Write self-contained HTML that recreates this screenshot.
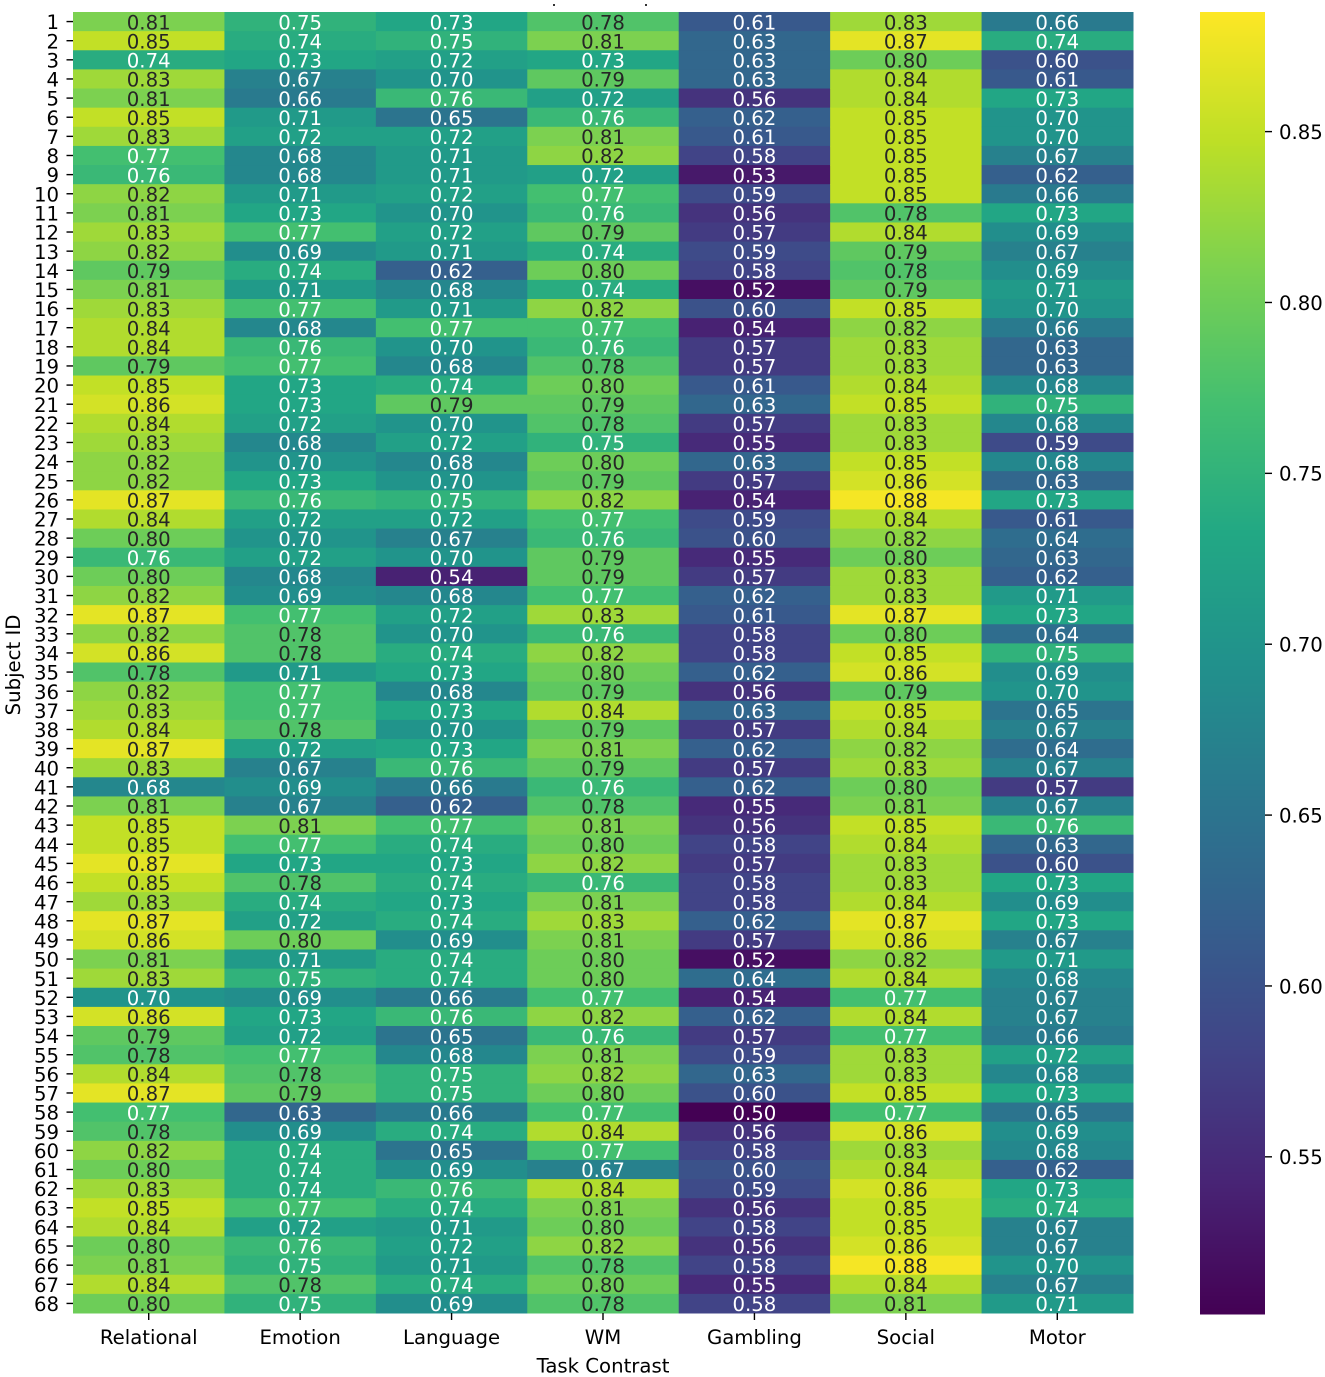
<!DOCTYPE html>
<html lang="en">
<head>
<meta charset="utf-8">
<title>Subject by Task Contrast Heatmap</title>
<style>
  html, body { margin: 0; padding: 0; background: #fff; }
  body { width: 1325px; height: 1377px; overflow: hidden; }
  svg { display: block; font-family: "DejaVu Sans", "Liberation Sans", sans-serif; filter: blur(0.35px); }
  text { font-size: 19.7px; }
</style>
</head>
<body>
<svg id="chart" xmlns="http://www.w3.org/2000/svg" width="1325" height="1377" viewBox="0 0 1325 1377">
  <rect x="0" y="0" width="1325" height="1377" fill="#ffffff"></rect>
  <rect x="553" y="4" width="2" height="2" fill="#333333"></rect>
  <rect x="645" y="4" width="2" height="2" fill="#333333"></rect>
  <g id="cells"></g>
  <g id="annotations"></g>
  <g id="y-axis"></g>
  <g id="x-axis"></g>
  <g id="colorbar"></g>
  <text x="603" y="1372.5" text-anchor="middle" fill="#000">Task Contrast</text>
  <text transform="translate(20,665) rotate(-90)" text-anchor="middle" fill="#000">Subject ID</text>
</svg>
<script>
const subjectIds = [1,2,3,4,5,6,7,8,9,10,11,12,13,14,15,16,17,18,19,20,21,22,23,24,25,26,27,28,29,30,31,32,33,34,35,36,37,38,39,40,41,42,43,44,45,46,47,48,49,50,51,52,53,54,55,56,57,58,59,60,61,62,63,64,65,66,67,68];
const taskContrasts = ["Relational","Emotion","Language","WM","Gambling","Social","Motor"];
const relational = [.81,.85,.74,.83,.81,.85,.83,.77,.76,.82,.81,.83,.82,.79,.81,.83,.84,.84,.79,.85,.86,.84,.83,.82,.82,.87,.84,.80,.76,.80,.82,.87,.82,.86,.78,.82,.83,.84,.87,.83,.68,.81,.85,.85,.87,.85,.83,.87,.86,.81,.83,.70,.86,.79,.78,.84,.87,.77,.78,.82,.80,.83,.85,.84,.80,.81,.84,.80];
const emotion = [.75,.74,.73,.67,.66,.71,.72,.68,.68,.71,.73,.77,.69,.74,.71,.77,.68,.76,.77,.73,.73,.72,.68,.70,.73,.76,.72,.70,.72,.68,.69,.77,.78,.78,.71,.77,.77,.78,.72,.67,.69,.67,.81,.77,.73,.78,.74,.72,.80,.71,.75,.69,.73,.72,.77,.78,.79,.63,.69,.74,.74,.74,.77,.72,.76,.75,.78,.75];
const language = [.73,.75,.72,.70,.76,.65,.72,.71,.71,.72,.70,.72,.71,.62,.68,.71,.77,.70,.68,.74,.79,.70,.72,.68,.70,.75,.72,.67,.70,.54,.68,.72,.70,.74,.73,.68,.73,.70,.73,.76,.66,.62,.77,.74,.73,.74,.73,.74,.69,.74,.74,.66,.76,.65,.68,.75,.75,.66,.74,.65,.69,.76,.74,.71,.72,.71,.74,.69];
const wm = [.78,.81,.73,.79,.72,.76,.81,.82,.72,.77,.76,.79,.74,.80,.74,.82,.77,.76,.78,.80,.79,.78,.75,.80,.79,.82,.77,.76,.79,.79,.77,.83,.76,.82,.80,.79,.84,.79,.81,.79,.76,.78,.81,.80,.82,.76,.81,.83,.81,.80,.80,.77,.82,.76,.81,.82,.80,.77,.84,.77,.67,.84,.81,.80,.82,.78,.80,.78];
const gambling = [.61,.63,.63,.63,.56,.62,.61,.58,.53,.59,.56,.57,.59,.58,.52,.60,.54,.57,.57,.61,.63,.57,.55,.63,.57,.54,.59,.60,.55,.57,.62,.61,.58,.58,.62,.56,.63,.57,.62,.57,.62,.55,.56,.58,.57,.58,.58,.62,.57,.52,.64,.54,.62,.57,.59,.63,.60,.50,.56,.58,.60,.59,.56,.58,.56,.58,.55,.58];
const social = [.83,.87,.80,.84,.84,.85,.85,.85,.85,.85,.78,.84,.79,.78,.79,.85,.82,.83,.83,.84,.85,.83,.83,.85,.86,.88,.84,.82,.80,.83,.83,.87,.80,.85,.86,.79,.85,.84,.82,.83,.80,.81,.85,.84,.83,.83,.84,.87,.86,.82,.84,.77,.84,.77,.83,.83,.85,.77,.86,.83,.84,.86,.85,.85,.86,.88,.84,.81];
const motor = [.66,.74,.60,.61,.73,.70,.70,.67,.62,.66,.73,.69,.67,.69,.71,.70,.66,.63,.63,.68,.75,.68,.59,.68,.63,.73,.61,.64,.63,.62,.71,.73,.64,.75,.69,.70,.65,.67,.64,.67,.57,.67,.76,.63,.60,.73,.69,.73,.67,.71,.68,.67,.67,.66,.72,.68,.73,.65,.69,.68,.62,.73,.74,.67,.67,.70,.67,.71];
const colorbarTicks = [0.55,0.60,0.65,0.70,0.75,0.80,0.85];
const seriesByColumn = [relational, emotion, language, wm, gambling, social, motor];

const SVG_NS = "http://www.w3.org/2000/svg";
const plotLeft = 73, plotRight = 1133, plotTop = 12, plotBottom = 1313;
const barLeft = 1200, barRight = 1265;
const valueMin = 0.5043, valueMax = 0.885;
const viridisStops = ["#440154","#482475","#414487","#355f8d","#2a788e","#21918c","#22a884","#44bf70","#7ad151","#bddf26","#fde725"];

function xScale(columnIndex) {
  return plotLeft + columnIndex * (plotRight - plotLeft) / taskContrasts.length;
}
function yScale(rowIndex) {
  return plotTop + rowIndex * (plotBottom - plotTop) / subjectIds.length;
}
function colorbarY(value) {
  return plotBottom - (value - valueMin) / (valueMax - valueMin) * (plotBottom - plotTop);
}
function hexToRgb(hex) {
  return [parseInt(hex.slice(1,3),16), parseInt(hex.slice(3,5),16), parseInt(hex.slice(5,7),16)];
}
function colorScale(value) {
  const t = Math.max(0, Math.min(1, (value - valueMin) / (valueMax - valueMin)));
  const pos = t * (viridisStops.length - 1);
  const i = Math.min(viridisStops.length - 2, Math.floor(pos));
  const f = pos - i;
  const a = hexToRgb(viridisStops[i]);
  const b = hexToRgb(viridisStops[i + 1]);
  const c = a.map(function (v, k) { return Math.round(v + (b[k] - v) * f); });
  return "rgb(" + c[0] + "," + c[1] + "," + c[2] + ")";
}
function make(tag, parent, attrs) {
  const el = document.createElementNS(SVG_NS, tag);
  Object.keys(attrs).forEach(function (k) { el.setAttribute(k, attrs[k]); });
  parent.appendChild(el);
  return el;
}

const cellsGroup = document.getElementById("cells");
const annotationGroup = document.getElementById("annotations");
const yAxisGroup = document.getElementById("y-axis");
const xAxisGroup = document.getElementById("x-axis");
const colorbarGroup = document.getElementById("colorbar");

seriesByColumn.forEach(function (series, c) {
  series.forEach(function (value, r) {
    const x0 = xScale(c), x1 = xScale(c + 1), y0 = yScale(r), y1 = yScale(r + 1);
    const cell = make("rect", cellsGroup, { x: x0, y: y0, width: x1 - x0 + 0.5, height: y1 - y0 + 0.5, fill: colorScale(value) });
    
    
    const label = make("text", annotationGroup, {
      x: (x0 + x1) / 2,
      y: (y0 + y1) / 2 + 7.7,
      "text-anchor": "middle",
      fill: value >= 0.775 ? "#262626" : "#ffffff"
    });
    label.textContent = value.toFixed(2);
    
    
  });
});

subjectIds.forEach(function (id, r) {
  const yc = (yScale(r) + yScale(r + 1)) / 2;
  const tick = make("rect", yAxisGroup, { x: plotLeft - 6.5, y: yc - 0.7, width: 6.5, height: 1.4, fill: "#000" });
  
  
  const label = make("text", yAxisGroup, { x: plotLeft - 14, y: yc + 7.6, "text-anchor": "end", fill: "#000" });
  label.textContent = String(id);
  
  
});

taskContrasts.forEach(function (name, c) {
  const xc = (xScale(c) + xScale(c + 1)) / 2;
  const tick = make("rect", xAxisGroup, { x: xc - 0.7, y: plotBottom, width: 1.4, height: 7, fill: "#000" });
  
  
  const label = make("text", xAxisGroup, { x: xc, y: 1344, "text-anchor": "middle", fill: "#000" });
  label.textContent = name;
  
  
});

for (let py = plotTop; py < plotBottom; py += 2) {
  const sliceValue = valueMax - (py + 1 - plotTop) / (plotBottom - plotTop) * (valueMax - valueMin);
  const slice = make("rect", colorbarGroup, { x: barLeft, y: py, width: barRight - barLeft, height: 2.5, fill: colorScale(sliceValue) });
  
  
}
colorbarTicks.forEach(function (value) {
  const yp = colorbarY(value);
  const tick = make("rect", colorbarGroup, { x: barRight, y: yp - 0.7, width: 7, height: 1.4, fill: "#000" });
  
  
  const label = make("text", colorbarGroup, { x: 1279, y: yp + 7.4, fill: "#000" });
  label.textContent = value.toFixed(2);
  
  
});
</script>
</body>
</html>
